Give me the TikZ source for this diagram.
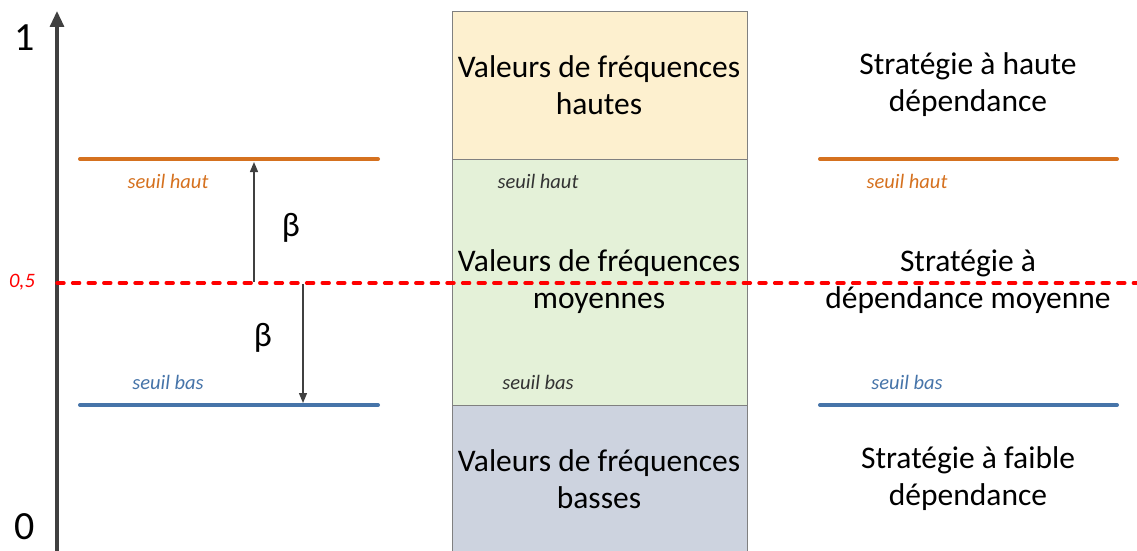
\documentclass[tikz,border=0pt]{standalone}
\usepackage{fontspec}
\setmainfont{Carlito}
\usetikzlibrary{arrows.meta}

\definecolor{hautcol}{HTML}{D5711F}
\definecolor{bascol}{HTML}{4674A9}
\definecolor{axecol}{HTML}{404040}
\definecolor{jaune}{HTML}{FDF0CF}
\definecolor{vert}{HTML}{E4F1D8}
\definecolor{grisbleu}{HTML}{CDD3DF}

\begin{document}
\begin{tikzpicture}
[x=1pt, y=-1pt,
 bigtext/.style={align=center, font=\fontsize{31.5}{37}\selectfont},
 seuiltext/.style={font=\fontsize{20.5}{24}\selectfont\itshape},
 seuilline/.style={line width=4pt, line cap=round},
 zone/.style={draw=black!50, line width=0.8pt},
 betaarrow/.style={draw=axecol, line width=1.3pt, -{Triangle[width=8pt,length=10pt]}}]
\useasboundingbox (0,0) rectangle (1137,551);

% bandes de fréquences
\fill[jaune] (452,11) rectangle (747,159);
\fill[vert] (452,159) rectangle (747,405);
\fill[grisbleu] (452,405) rectangle (747,551);
\draw[zone] (452,551) -- (452,11) -- (747,11) -- (747,551);
\draw[zone] (452,159) -- (747,159);
\draw[zone] (452,405) -- (747,405);

% axe
\coordinate (axebas) at (57,551);
\coordinate (axehaut) at (57,11);
\draw[axecol, line width=3.2pt, -{Triangle[width=14pt,length=16pt]}] (axebas) -- (axehaut);
\node[font=\fontsize{40}{44}\selectfont] (un) at (25,38) {1};
\node[font=\fontsize{40}{44}\selectfont] (zero) at (25,527) {0};

% seuils a gauche
\coordinate (hautA) at (80,159);
\coordinate (hautB) at (378,159);
\coordinate (basA) at (80,405);
\coordinate (basB) at (378,405);
\draw[seuilline, hautcol] (hautA) -- (hautB);
\draw[seuilline, bascol] (basA) -- (basB);
\node[seuiltext, text=hautcol] (seuilhautG) at (168,181) {seuil haut};
\node[seuiltext, text=bascol] (seuilbasG) at (168,382) {seuil bas};

% seuils a droite
\coordinate (hautC) at (820,159);
\coordinate (hautD) at (1117,159);
\coordinate (basC) at (820,405);
\coordinate (basD) at (1117,405);
\draw[seuilline, hautcol] (hautC) -- (hautD);
\draw[seuilline, bascol] (basC) -- (basD);
\node[seuiltext, text=hautcol] (seuilhautD) at (907,181) {seuil haut};
\node[seuiltext, text=bascol] (seuilbasD) at (907,382) {seuil bas};

% seuils dans la boite
\node[seuiltext, text=black!80] (seuilhautM) at (538,181) {seuil haut};
\node[seuiltext, text=black!80] (seuilbasM) at (538,382) {seuil bas};

% textes
\node[bigtext] (hautes) at (599,85) {Valeurs de fréquences\\hautes};
\node[bigtext] (moyennes) at (599,282) {Valeurs de fréquences\\moyennes};
\node[bigtext] (basses) at (599,479) {Valeurs de fréquences\\basses};
\node[bigtext] (strathaute) at (968,85) {Stratégie à haute\\dépendance};
\node[bigtext] (stratmoy) at (968,282) {Stratégie à\\dépendance moyenne};
\node[bigtext] (stratfaible) at (968,479) {Stratégie à faible\\dépendance};

% ligne 0,5
\coordinate (milieuA) at (57,283);
\coordinate (milieuB) at (1137,283);
\draw[red, line width=3.4pt, line cap=round, dash pattern=on 7pt off 8.6pt] (milieuA) -- (milieuB);
\node[seuiltext, text=red] (demi) at (22,282) {0,5};

% beta
\coordinate (betaupA) at (254,282);
\coordinate (betaupB) at (254,162);
\coordinate (betadownA) at (303,284);
\coordinate (betadownB) at (303,403);
\draw[betaarrow] (betaupA) -- (betaupB);
\draw[betaarrow] (betadownA) -- (betadownB);
\node[font=\fontsize{34}{38}\selectfont] (beta1) at (291,228) {β};
\node[font=\fontsize{34}{38}\selectfont] (beta2) at (263,338) {β};
\end{tikzpicture}
\end{document}
